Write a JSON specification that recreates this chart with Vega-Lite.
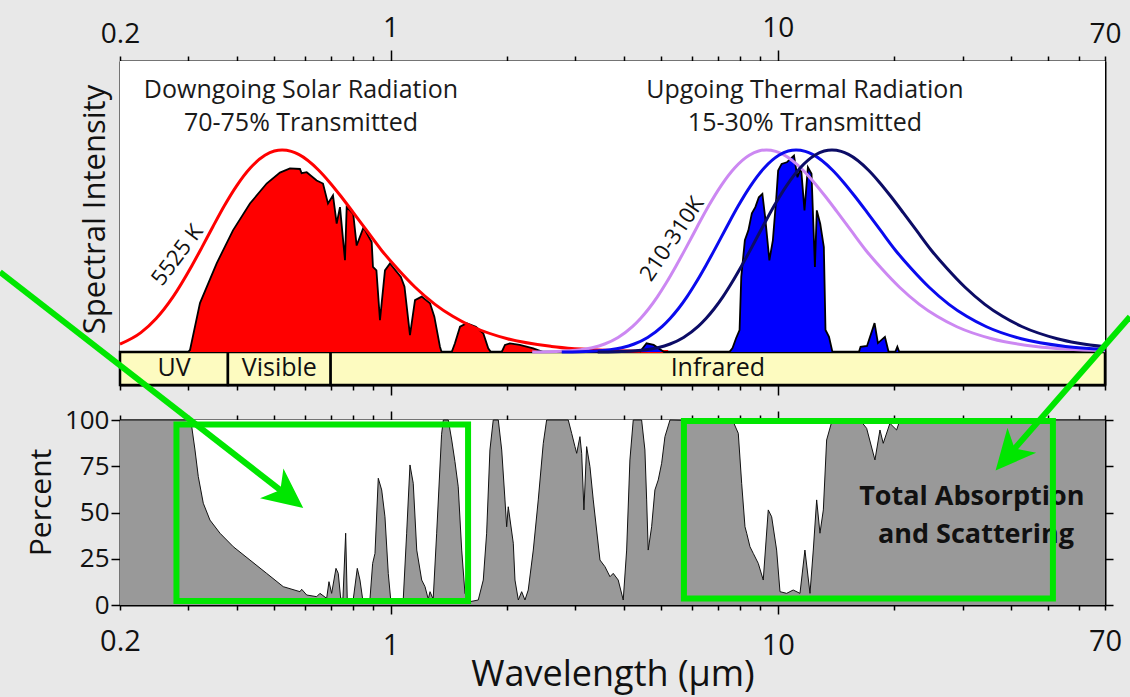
{
"$schema": "https://vega.github.io/schema/vega-lite/v6.json",
"width": 985,
"height": 544,
"autosize": "none",
"padding": {"left": 120, "top": 61, "right": 25, "bottom": 92},
"background": "#e8e8e8",
"config": {
  "view": {"stroke": null},
  "font": "Open Sans",
  "axis": {"domainColor": "#000000", "domainWidth": 2, "tickColor": "#000000", "tickWidth": 1.5, "labelColor": "#111111", "titleColor": "#111111", "labelFont": "Open Sans", "titleFont": "Open Sans", "titleFontWeight": "normal", "grid": false, "labelOverlap": false, "labelFlush": false}
},
"datasets": {
  "bands": [
    {"band": "UV", "x1": 0.2, "x2": 0.38, "y1": -0.1634, "y2": 0, "mid": 0.2757},
    {"band": "Visible", "x1": 0.38, "x2": 0.70, "y1": -0.1634, "y2": 0, "mid": 0.5158},
    {"band": "Infrared", "x1": 0.70, "x2": 70, "y1": -0.1634, "y2": 0, "mid": 7.0}
  ],
  "solar": [
    {"lam":0.3,"v":0},{"lam":0.3033,"v":0.01},{"lam":0.3218,"v":0.242},{"lam":0.3554,"v":0.439},{"lam":0.3916,"v":0.602},{"lam":0.4332,"v":0.735},{"lam":0.4784,"v":0.834},{"lam":0.5178,"v":0.888},{"lam":0.5495,"v":0.909},{"lam":0.5833,"v":0.906},{"lam":0.589,"v":0.885},{"lam":0.6071,"v":0.89},{"lam":0.6442,"v":0.849},{"lam":0.6688,"v":0.834},{"lam":0.689,"v":0.735},{"lam":0.7098,"v":0.775},{"lam":0.7256,"v":0.636},{"lam":0.74,"v":0.717},{"lam":0.7623,"v":0.454},{"lam":0.77,"v":0.717},{"lam":0.8007,"v":0.684},{"lam":0.8171,"v":0.527},{"lam":0.851,"v":0.617},{"lam":0.8935,"v":0.544},{"lam":0.9003,"v":0.421},{"lam":0.919,"v":0.404},{"lam":0.9386,"v":0.158},{"lam":0.9669,"v":0.404},{"lam":0.996,"v":0.438},{"lam":1.063,"v":0.372},{"lam":1.086,"v":0.323},{"lam":1.122,"v":0.084},{"lam":1.156,"v":0.257},{"lam":1.203,"v":0.274},{"lam":1.264,"v":0.241},{"lam":1.297,"v":0.175},{"lam":1.341,"v":0.026},{"lam":1.354,"v":0},{"lam":1.438,"v":0},{"lam":1.466,"v":0.043},{"lam":1.511,"v":0.125},{"lam":1.572,"v":0.142},{"lam":1.66,"v":0.125},{"lam":1.735,"v":0.093},{"lam":1.787,"v":0.018},{"lam":1.815,"v":0},{"lam":1.936,"v":0},{"lam":1.974,"v":0.035},{"lam":2.033,"v":0.043},{"lam":2.155,"v":0.035},{"lam":2.336,"v":0.018},{"lam":2.479,"v":0}
  ],
  "thermal": [
    {"lam":4.4,"v":0},{"lam":4.581,"v":0.043},{"lam":4.78,"v":0.035},{"lam":5.081,"v":0},{"lam":7.5,"v":0},{"lam":7.64,"v":0.02},{"lam":7.802,"v":0.068},{"lam":7.966,"v":0.109},{"lam":8.047,"v":0.372},{"lam":8.221,"v":0.553},{"lam":8.394,"v":0.602},{"lam":8.57,"v":0.686},{"lam":8.75,"v":0.717},{"lam":8.933,"v":0.766},{"lam":9.124,"v":0.783},{"lam":9.275,"v":0.668},{"lam":9.511,"v":0.454},{"lam":9.71,"v":0.553},{"lam":9.913,"v":0.766},{"lam":10.02,"v":0.898},{"lam":10.23,"v":0.931},{"lam":10.55,"v":0.939},{"lam":10.78,"v":0.956},{"lam":11.01,"v":0.972},{"lam":11.24,"v":0.865},{"lam":11.48,"v":0.914},{"lam":11.72,"v":0.701},{"lam":11.96,"v":0.914},{"lam":12.22,"v":0.882},{"lam":12.47,"v":0.421},{"lam":12.61,"v":0.701},{"lam":12.87,"v":0.635},{"lam":13.15,"v":0.52},{"lam":13.28,"v":0.109},{"lam":13.56,"v":0.075},{"lam":13.84,"v":0},{"lam":16.2,"v":0},{"lam":16.36,"v":0.026},{"lam":17,"v":0.03},{"lam":17.78,"v":0.143},{"lam":18.14,"v":0.044},{"lam":18.91,"v":0.075},{"lam":19.33,"v":0},{"lam":20.1,"v":0},{"lam":20.36,"v":0.026},{"lam":20.6,"v":0}
  ],
  "planck": [
    {"s":"5525","lam":0.2,"v":0.039},{"s":"5525","lam":0.2264,"v":0.0961},{"s":"5525","lam":0.248,"v":0.166},{"s":"5525","lam":0.2741,"v":0.273},{"s":"5525","lam":0.3064,"v":0.426},{"s":"5525","lam":0.3255,"v":0.518},{"s":"5525","lam":0.3472,"v":0.619},{"s":"5525","lam":0.372,"v":0.724},{"s":"5525","lam":0.4006,"v":0.824},{"s":"5525","lam":0.434,"v":0.911},{"s":"5525","lam":0.4735,"v":0.974},{"s":"5525","lam":0.5008,"v":0.995},{"s":"5525","lam":0.5245,"v":1.0},{"s":"5525","lam":0.554,"v":0.993},{"s":"5525","lam":0.5787,"v":0.978},{"s":"5525","lam":0.651,"v":0.901},{"s":"5525","lam":0.6944,"v":0.842},{"s":"5525","lam":0.744,"v":0.771},{"s":"5525","lam":0.801,"v":0.69},{"s":"5525","lam":0.868,"v":0.6005},{"s":"5525","lam":0.947,"v":0.504},{"s":"5525","lam":1.0416,"v":0.412},{"s":"5525","lam":1.157,"v":0.3205},{"s":"5525","lam":1.302,"v":0.236},{"s":"5525","lam":1.447,"v":0.1766},{"s":"5525","lam":1.6275,"v":0.125},{"s":"5525","lam":2.003,"v":0.0656},{"s":"5525","lam":2.604,"v":0.0275},{"s":"5525","lam":3.72,"v":0.0078},{"s":"5525","lam":5.21,"v":0.0023},
    {"s":"310","lam":2.321,"v":0.0003},{"s":"310","lam":2.578,"v":0.00136},{"s":"310","lam":2.901,"v":0.00557},{"s":"310","lam":3.094,"v":0.011},{"s":"310","lam":3.315,"v":0.0211},{"s":"310","lam":3.57,"v":0.0396},{"s":"310","lam":3.868,"v":0.0721},{"s":"310","lam":4.219,"v":0.127},{"s":"310","lam":4.42,"v":0.166},{"s":"310","lam":4.641,"v":0.214},{"s":"310","lam":4.885,"v":0.273},{"s":"310","lam":5.157,"v":0.344},{"s":"310","lam":5.46,"v":0.426},{"s":"310","lam":5.801,"v":0.518},{"s":"310","lam":6.188,"v":0.619},{"s":"310","lam":6.63,"v":0.724},{"s":"310","lam":7.14,"v":0.824},{"s":"310","lam":7.735,"v":0.911},{"s":"310","lam":8.438,"v":0.974},{"s":"310","lam":8.925,"v":0.995},{"s":"310","lam":9.347,"v":1.0},{"s":"310","lam":9.874,"v":0.993},{"s":"310","lam":10.313,"v":0.978},{"s":"310","lam":11.603,"v":0.901},{"s":"310","lam":12.376,"v":0.842},{"s":"310","lam":13.26,"v":0.771},{"s":"310","lam":14.28,"v":0.69},{"s":"310","lam":15.47,"v":0.6005},{"s":"310","lam":16.876,"v":0.504},{"s":"310","lam":18.564,"v":0.412},{"s":"310","lam":20.627,"v":0.3205},{"s":"310","lam":23.205,"v":0.236},{"s":"310","lam":25.783,"v":0.1766},{"s":"310","lam":29.006,"v":0.125},{"s":"310","lam":35.7,"v":0.0656},{"s":"310","lam":46.41,"v":0.02745},{"s":"310","lam":70,"v":0.00645},
    {"s":"260","lam":2.767,"v":0.0003},{"s":"260","lam":3.074,"v":0.00136},{"s":"260","lam":3.459,"v":0.00557},{"s":"260","lam":3.689,"v":0.011},{"s":"260","lam":3.953,"v":0.0211},{"s":"260","lam":4.257,"v":0.0396},{"s":"260","lam":4.612,"v":0.0721},{"s":"260","lam":5.031,"v":0.127},{"s":"260","lam":5.27,"v":0.166},{"s":"260","lam":5.534,"v":0.214},{"s":"260","lam":5.825,"v":0.273},{"s":"260","lam":6.149,"v":0.344},{"s":"260","lam":6.511,"v":0.426},{"s":"260","lam":6.918,"v":0.518},{"s":"260","lam":7.379,"v":0.619},{"s":"260","lam":7.906,"v":0.724},{"s":"260","lam":8.514,"v":0.824},{"s":"260","lam":9.223,"v":0.911},{"s":"260","lam":10.062,"v":0.974},{"s":"260","lam":10.642,"v":0.995},{"s":"260","lam":11.146,"v":1.0},{"s":"260","lam":11.774,"v":0.993},{"s":"260","lam":12.298,"v":0.978},{"s":"260","lam":13.835,"v":0.901},{"s":"260","lam":14.757,"v":0.842},{"s":"260","lam":15.811,"v":0.771},{"s":"260","lam":17.028,"v":0.69},{"s":"260","lam":18.447,"v":0.6005},{"s":"260","lam":20.124,"v":0.504},{"s":"260","lam":22.136,"v":0.412},{"s":"260","lam":24.596,"v":0.3205},{"s":"260","lam":27.67,"v":0.236},{"s":"260","lam":30.744,"v":0.1766},{"s":"260","lam":34.588,"v":0.125},{"s":"260","lam":42.569,"v":0.0656},{"s":"260","lam":55.34,"v":0.02745},{"s":"260","lam":70,"v":0.0121},
    {"s":"210","lam":3.426,"v":0.0003},{"s":"210","lam":3.806,"v":0.00136},{"s":"210","lam":4.282,"v":0.00557},{"s":"210","lam":4.567,"v":0.011},{"s":"210","lam":4.894,"v":0.0211},{"s":"210","lam":5.27,"v":0.0396},{"s":"210","lam":5.709,"v":0.0721},{"s":"210","lam":6.228,"v":0.127},{"s":"210","lam":6.525,"v":0.166},{"s":"210","lam":6.851,"v":0.214},{"s":"210","lam":7.212,"v":0.273},{"s":"210","lam":7.612,"v":0.344},{"s":"210","lam":8.06,"v":0.426},{"s":"210","lam":8.564,"v":0.518},{"s":"210","lam":9.135,"v":0.619},{"s":"210","lam":9.787,"v":0.724},{"s":"210","lam":10.54,"v":0.824},{"s":"210","lam":11.418,"v":0.911},{"s":"210","lam":12.456,"v":0.974},{"s":"210","lam":13.175,"v":0.995},{"s":"210","lam":13.799,"v":1.0},{"s":"210","lam":14.577,"v":0.993},{"s":"210","lam":15.224,"v":0.978},{"s":"210","lam":17.128,"v":0.901},{"s":"210","lam":18.269,"v":0.842},{"s":"210","lam":19.574,"v":0.771},{"s":"210","lam":21.08,"v":0.69},{"s":"210","lam":22.837,"v":0.6005},{"s":"210","lam":24.913,"v":0.504},{"s":"210","lam":27.404,"v":0.412},{"s":"210","lam":30.449,"v":0.3205},{"s":"210","lam":34.255,"v":0.236},{"s":"210","lam":38.061,"v":0.1766},{"s":"210","lam":42.819,"v":0.125},{"s":"210","lam":52.7,"v":0.0656},{"s":"210","lam":70,"v":0.0255}
  ],
  "absorb": [
    {"lam":0.2,"p":100},{"lam":0.3046,"p":100},{"lam":0.3064,"p":96.4},{"lam":0.3124,"p":83.8},{"lam":0.3186,"p":69.4},{"lam":0.3282,"p":55},{"lam":0.3415,"p":45.9},{"lam":0.3625,"p":38.8},{"lam":0.3923,"p":31.5},{"lam":0.4332,"p":24.3},{"lam":0.4784,"p":17.1},{"lam":0.5281,"p":9.9},{"lam":0.5833,"p":7.2},{"lam":0.5892,"p":8.5},{"lam":0.6071,"p":5.4},{"lam":0.6442,"p":4.5},{"lam":0.6569,"p":6.3},{"lam":0.6836,"p":3.6},{"lam":0.6931,"p":12.6},{"lam":0.7042,"p":6.3},{"lam":0.7225,"p":19.8},{"lam":0.7324,"p":17.1},{"lam":0.743,"p":3.6},{"lam":0.7531,"p":3.6},{"lam":0.7654,"p":38.8},{"lam":0.7727,"p":3.1},{"lam":0.8007,"p":3.1},{"lam":0.8202,"p":19.8},{"lam":0.8333,"p":13.5},{"lam":0.8469,"p":3.1},{"lam":0.8844,"p":3.1},{"lam":0.8986,"p":22.5},{"lam":0.9112,"p":27.9},{"lam":0.9292,"p":68.5},{"lam":0.9482,"p":62.2},{"lam":0.9669,"p":47.7},{"lam":0.9861,"p":17.1},{"lam":1.0002,"p":3.1},{"lam":1.078,"p":3.1},{"lam":1.1,"p":38.8},{"lam":1.122,"p":75.7},{"lam":1.144,"p":65.8},{"lam":1.168,"p":29.7},{"lam":1.203,"p":13.5},{"lam":1.227,"p":9.9},{"lam":1.251,"p":3.1},{"lam":1.264,"p":7.2},{"lam":1.288,"p":3.1},{"lam":1.315,"p":38.8},{"lam":1.354,"p":92.3},{"lam":1.368,"p":100},{"lam":1.409,"p":100},{"lam":1.438,"p":89.2},{"lam":1.466,"p":77.5},{"lam":1.495,"p":63.9},{"lam":1.526,"p":29.7},{"lam":1.556,"p":6.3},{"lam":1.603,"p":1.8},{"lam":1.684,"p":2.7},{"lam":1.735,"p":13.5},{"lam":1.77,"p":38.8},{"lam":1.805,"p":83.8},{"lam":1.841,"p":100},{"lam":1.897,"p":100},{"lam":1.936,"p":83.8},{"lam":1.974,"p":56.8},{"lam":1.994,"p":42.3},{"lam":2.013,"p":53.1},{"lam":2.074,"p":33.4},{"lam":2.095,"p":13.5},{"lam":2.137,"p":2.7},{"lam":2.18,"p":7.2},{"lam":2.223,"p":2.7},{"lam":2.267,"p":8.1},{"lam":2.336,"p":29.7},{"lam":2.406,"p":56.8},{"lam":2.479,"p":87.4},{"lam":2.529,"p":100},{"lam":2.876,"p":100},{"lam":2.935,"p":92.8},{"lam":2.993,"p":85.6},{"lam":3.024,"p":82},{"lam":3.083,"p":91},{"lam":3.115,"p":82},{"lam":3.157,"p":51.4},{"lam":3.208,"p":85.6},{"lam":3.272,"p":74.8},{"lam":3.337,"p":56.8},{"lam":3.473,"p":24.3},{"lam":3.578,"p":20.7},{"lam":3.686,"p":15.3},{"lam":3.758,"p":17.1},{"lam":3.871,"p":13.5},{"lam":3.988,"p":2.7},{"lam":4.07,"p":29.7},{"lam":4.15,"p":78.4},{"lam":4.233,"p":100},{"lam":4.449,"p":100},{"lam":4.537,"p":83.8},{"lam":4.584,"p":56.8},{"lam":4.627,"p":29.7},{"lam":4.722,"p":42.3},{"lam":4.815,"p":62.2},{"lam":4.911,"p":67.6},{"lam":5.012,"p":76.6},{"lam":5.111,"p":91},{"lam":5.267,"p":100},{"lam":7.674,"p":99},{"lam":7.906,"p":92.8},{"lam":8.066,"p":65.8},{"lam":8.227,"p":42.3},{"lam":8.311,"p":38.8},{"lam":8.475,"p":31.5},{"lam":8.643,"p":27.9},{"lam":8.904,"p":22.5},{"lam":9.171,"p":13.5},{"lam":9.448,"p":51.4},{"lam":9.641,"p":47.7},{"lam":9.931,"p":29.7},{"lam":10.13,"p":7.2},{"lam":10.54,"p":6.3},{"lam":10.96,"p":8.1},{"lam":11.41,"p":6.3},{"lam":11.75,"p":29.7},{"lam":12.11,"p":6.3},{"lam":12.35,"p":29.7},{"lam":12.6,"p":56.8},{"lam":12.85,"p":38.8},{"lam":13.11,"p":51.4},{"lam":13.37,"p":89.2},{"lam":13.78,"p":99},{"lam":16.3,"p":100},{"lam":16.96,"p":95.5},{"lam":17.82,"p":78.4},{"lam":18.36,"p":94.6},{"lam":18.72,"p":87.4},{"lam":19.48,"p":98.2},{"lam":20.27,"p":94.6},{"lam":20.68,"p":100},{"lam":70,"p":100}
  ]
},
"resolve": {"scale": {"y": "independent"}, "axis": {"x": "independent", "y": "independent"}},
"layer": [
  {
    "resolve": {"axis": {"x": "independent", "y": "independent"}},
    "layer": [
      {
        "data": {"values": [{"a": 0.2, "b": 70, "c": 0, "d": 1.4406}]},
        "mark": {"type": "rect", "color": "#ffffff", "opacity": 1},
        "encoding": {
          "x": {"field": "a", "type": "quantitative", "scale": {"type": "log", "domain": [0.2, 70], "nice": false},
                "axis": {"orient": "top", "values": [0.2,0.3,0.4,0.5,0.6,0.7,0.8,0.9,1,2,3,4,5,6,7,8,9,10,20,30,40,50,60,70], "labelExpr": "datum.value == 0.2 ? '0.2' : datum.value == 1 ? '1' : datum.value == 10 ? '10' : datum.value == 70 ? '70' : ''", "tickSize": {"condition": {"test": "datum.value == 1 || datum.value == 10", "value": 11}, "value": 5}, "labelFontSize": 28, "labelPadding": 8, "title": null}},
          "x2": {"field": "b"},
          "y": {"field": "c", "type": "quantitative", "scale": {"domain": [-0.1634, 1.4406], "range": [324, 0], "nice": false, "zero": false},
                "axis": {"orient": "left", "ticks": false, "labels": false, "title": "Spectral Intensity", "titleFontSize": 31, "titleAngle": -90, "titleBaseline": "alphabetic", "titleAlign": "center", "titleX": -16, "titleY": 148}},
          "y2": {"field": "d"}
        }
      },
      {
        "data": {"name": "bands"},
        "mark": {"type": "rect", "color": "#fdfbc0", "opacity": 1, "stroke": "#000000", "strokeWidth": 2.5},
        "encoding": {
          "x": {"field": "x1", "type": "quantitative", "scale": {"type": "log", "domain": [0.2, 70], "nice": false},
                "axis": {"orient": "bottom", "offset": -220, "values": [0.2,0.3,0.4,0.5,0.6,0.7,0.8,0.9,1,2,3,4,5,6,7,8,9,10,20,30,40,50,60,70], "labels": false, "tickSize": {"condition": {"test": "datum.value == 1 || datum.value == 10", "value": 10}, "value": 5}, "title": null}},
          "x2": {"field": "x2"},
          "y": {"field": "y1", "type": "quantitative", "scale": {"domain": [-0.1634, 1.4406], "range": [324, 0], "nice": false, "zero": false},
                "axis": {"orient": "right", "ticks": false, "labels": false, "title": null}},
          "y2": {"field": "y2"}
        }
      },
      {
        "data": {"name": "solar"},
        "mark": {"type": "area", "color": "#ff0000", "opacity": 1, "line": {"color": "#000000", "strokeWidth": 1.8}},
        "encoding": {
          "x": {"field": "lam", "type": "quantitative", "scale": {"type": "log", "domain": [0.2, 70], "nice": false}, "axis": null},
          "y": {"field": "v", "type": "quantitative", "stack": null, "scale": {"domain": [-0.1634, 1.4406], "range": [324, 0], "nice": false, "zero": false}, "axis": null}
        }
      },
      {
        "data": {"name": "planck"},
        "transform": [{"filter": "datum.s == '5525'"}],
        "mark": {"type": "line", "color": "#ff0000", "strokeWidth": 3, "interpolate": "monotone"},
        "encoding": {
          "x": {"field": "lam", "type": "quantitative", "scale": {"type": "log", "domain": [0.2, 70], "nice": false}, "axis": null},
          "y": {"field": "v", "type": "quantitative", "scale": {"domain": [-0.1634, 1.4406], "range": [324, 0], "nice": false, "zero": false}, "axis": null}
        }
      },
      {
        "data": {"name": "thermal"},
        "mark": {"type": "area", "color": "#0000ff", "opacity": 1, "line": {"color": "#000000", "strokeWidth": 1.8}},
        "encoding": {
          "x": {"field": "lam", "type": "quantitative", "scale": {"type": "log", "domain": [0.2, 70], "nice": false}, "axis": null},
          "y": {"field": "v", "type": "quantitative", "stack": null, "scale": {"domain": [-0.1634, 1.4406], "range": [324, 0], "nice": false, "zero": false}, "axis": null}
        }
      },
      {
        "data": {"name": "planck"},
        "transform": [{"filter": "datum.s == '310'"}],
        "mark": {"type": "line", "color": "#cc88f2", "strokeWidth": 3, "interpolate": "monotone"},
        "encoding": {
          "x": {"field": "lam", "type": "quantitative", "scale": {"type": "log", "domain": [0.2, 70], "nice": false}, "axis": null},
          "y": {"field": "v", "type": "quantitative", "scale": {"domain": [-0.1634, 1.4406], "range": [324, 0], "nice": false, "zero": false}, "axis": null}
        }
      },
      {
        "data": {"name": "planck"},
        "transform": [{"filter": "datum.s == '260'"}],
        "mark": {"type": "line", "color": "#0a0aee", "strokeWidth": 3, "interpolate": "monotone"},
        "encoding": {
          "x": {"field": "lam", "type": "quantitative", "scale": {"type": "log", "domain": [0.2, 70], "nice": false}, "axis": null},
          "y": {"field": "v", "type": "quantitative", "scale": {"domain": [-0.1634, 1.4406], "range": [324, 0], "nice": false, "zero": false}, "axis": null}
        }
      },
      {
        "data": {"name": "planck"},
        "transform": [{"filter": "datum.s == '210'"}],
        "mark": {"type": "line", "color": "#0c0c66", "strokeWidth": 3, "interpolate": "monotone"},
        "encoding": {
          "x": {"field": "lam", "type": "quantitative", "scale": {"type": "log", "domain": [0.2, 70], "nice": false}, "axis": null},
          "y": {"field": "v", "type": "quantitative", "scale": {"domain": [-0.1634, 1.4406], "range": [324, 0], "nice": false, "zero": false}, "axis": null}
        }
      },
      {
        "data": {"values": [
          {"t": "Downgoing Solar Radiation", "lam": 0.5868, "v": 1.297},
          {"t": "70-75% Transmitted", "lam": 0.5868, "v": 1.134},
          {"t": "Upgoing Thermal Radiation", "lam": 11.75, "v": 1.297},
          {"t": "15-30% Transmitted", "lam": 11.75, "v": 1.134}
        ]},
        "mark": {"type": "text", "font": "Open Sans", "fontSize": 25, "color": "#1a1a1a", "baseline": "middle", "align": "center"},
        "encoding": {
          "x": {"field": "lam", "type": "quantitative", "scale": {"type": "log", "domain": [0.2, 70], "nice": false}, "axis": null},
          "y": {"field": "v", "type": "quantitative", "scale": {"domain": [-0.1634, 1.4406], "range": [324, 0], "nice": false, "zero": false}, "axis": null},
          "text": {"field": "t"}
        }
      },
      {
        "data": {"name": "bands"},
        "mark": {"type": "text", "font": "Open Sans", "fontSize": 25, "color": "#111111", "baseline": "middle", "align": "center"},
        "encoding": {
          "x": {"field": "mid", "type": "quantitative", "scale": {"type": "log", "domain": [0.2, 70], "nice": false}, "axis": null},
          "y": {"datum": -0.08, "type": "quantitative", "scale": {"domain": [-0.1634, 1.4406], "range": [324, 0], "nice": false, "zero": false}, "axis": null},
          "text": {"field": "band"}
        }
      },
      {
        "data": {"values": [{"t": "5525 K", "lam": 0.2814, "v": 0.48}]},
        "mark": {"type": "text", "font": "Open Sans", "fontSize": 22, "color": "#111111", "baseline": "middle", "align": "center", "angle": -53},
        "encoding": {
          "x": {"field": "lam", "type": "quantitative", "scale": {"type": "log", "domain": [0.2, 70], "nice": false}, "axis": null},
          "y": {"field": "v", "type": "quantitative", "scale": {"domain": [-0.1634, 1.4406], "range": [324, 0], "nice": false, "zero": false}, "axis": null},
          "text": {"field": "t"}
        }
      },
      {
        "data": {"values": [{"t": "210-310K", "lam": 5.33, "v": 0.559}]},
        "mark": {"type": "text", "font": "Open Sans", "fontSize": 22, "color": "#111111", "baseline": "middle", "align": "center", "angle": -56},
        "encoding": {
          "x": {"field": "lam", "type": "quantitative", "scale": {"type": "log", "domain": [0.2, 70], "nice": false}, "axis": null},
          "y": {"field": "v", "type": "quantitative", "scale": {"domain": [-0.1634, 1.4406], "range": [324, 0], "nice": false, "zero": false}, "axis": null},
          "text": {"field": "t"}
        }
      }
    ]
  },
  {
    "resolve": {"axis": {"x": "independent", "y": "independent"}},
    "layer": [
      {
        "data": {"values": [{"a": 0.2, "b": 70, "c": 0, "d": 100}]},
        "mark": {"type": "rect", "color": "#ffffff", "opacity": 1},
        "encoding": {
          "x": {"field": "a", "type": "quantitative", "scale": {"type": "log", "domain": [0.2, 70], "nice": false},
                "axis": {"orient": "bottom", "values": [0.2,0.3,0.4,0.5,0.6,0.7,0.8,0.9,1,2,3,4,5,6,7,8,9,10,20,30,40,50,60,70], "labelExpr": "datum.value == 0.2 ? '0.2' : datum.value == 1 ? '1' : datum.value == 10 ? '10' : datum.value == 70 ? '70' : ''", "tickSize": {"condition": {"test": "datum.value == 1 || datum.value == 10", "value": 9}, "value": 5}, "labelFontSize": 29, "labelPadding": 17, "title": "Wavelength (μm)", "titleFontSize": 36, "titleBaseline": "alphabetic", "titleY": 80}},
          "x2": {"field": "b"},
          "y": {"field": "c", "type": "quantitative", "scale": {"domain": [0, 100], "range": [544, 359], "nice": false, "zero": false},
                "axis": {"orient": "left", "values": [0, 25, 50, 75, 100], "tickSize": 9, "labelPadding": 2, "labelFontSize": 26, "title": "Percent", "titleFontSize": 30, "titleAngle": -90, "titleBaseline": "alphabetic", "titleAlign": "center", "titleX": -70, "titleY": 441}},
          "y2": {"field": "d"}
        }
      },
      {
        "data": {"name": "absorb"},
        "mark": {"type": "area", "color": "#999999", "opacity": 1, "line": {"color": "#111111", "strokeWidth": 1}},
        "encoding": {
          "x": {"field": "lam", "type": "quantitative", "scale": {"type": "log", "domain": [0.2, 70], "nice": false},
                "axis": {"orient": "top", "offset": -359, "values": [0.2,0.3,0.4,0.5,0.6,0.7,0.8,0.9,1,2,3,4,5,6,7,8,9,10,20,30,40,50,60,70], "labels": false, "tickSize": {"condition": {"test": "datum.value == 1 || datum.value == 10", "value": 9}, "value": 5}, "title": null}},
          "y": {"field": "p", "type": "quantitative", "stack": null, "scale": {"domain": [0, 100], "range": [544, 359], "nice": false, "zero": false},
                "axis": {"orient": "right", "values": [0, 25, 50, 75, 100], "tickSize": 8, "labels": false, "title": null}}
        }
      },
      {
        "data": {"values": [
          {"t": "Total Absorption", "lam": 31.7, "p": 58.4},
          {"t": "and Scattering", "lam": 32.5, "p": 37.8}
        ]},
        "mark": {"type": "text", "font": "Open Sans", "fontSize": 27, "fontWeight": "bold", "color": "#111111", "baseline": "middle", "align": "center"},
        "encoding": {
          "x": {"field": "lam", "type": "quantitative", "scale": {"type": "log", "domain": [0.2, 70], "nice": false}, "axis": null},
          "y": {"field": "p", "type": "quantitative", "scale": {"domain": [0, 100], "range": [544, 359], "nice": false, "zero": false}, "axis": null},
          "text": {"field": "t"}
        }
      },
      {
        "data": {"values": [
          {"x1": 0.2798, "x2": 1.585, "y1": 2.2, "y2": 97.6},
          {"x1": 5.722, "x2": 51.35, "y1": 3.5, "y2": 99.5}
        ]},
        "mark": {"type": "rect", "filled": false, "color": "#00e600", "opacity": 1, "strokeWidth": 6},
        "encoding": {
          "x": {"field": "x1", "type": "quantitative", "scale": {"type": "log", "domain": [0.2, 70], "nice": false}, "axis": null},
          "x2": {"field": "x2"},
          "y": {"field": "y1", "type": "quantitative", "scale": {"domain": [0, 100], "range": [544, 359], "nice": false, "zero": false}, "axis": null},
          "y2": {"field": "y2"}
        }
      },
      {
        "data": {"values": [
          {"x1": 0.09797, "y1": 180, "x2": 0.5415, "y2": 59.1},
          {"x1": 81.2, "y1": 155.8, "x2": 39.48, "y2": 80.9}
        ]},
        "mark": {"type": "rule", "color": "#00e600", "strokeWidth": 6},
        "encoding": {
          "x": {"field": "x1", "type": "quantitative", "scale": {"type": "log", "domain": [0.2, 70], "nice": false}, "axis": null},
          "x2": {"field": "x2"},
          "y": {"field": "y1", "type": "quantitative", "scale": {"domain": [0, 100], "range": [544, 359], "nice": false, "zero": false}, "axis": null},
          "y2": {"field": "y2"}
        }
      },
      {
        "data": {"values": [{"lam": 0.5415, "p": 59.1}]},
        "mark": {"type": "point", "shape": "M0,-1L0.95,1L0,0.45L-0.95,1Z", "filled": true, "color": "#00e600", "opacity": 1, "size": 1600, "angle": 128, "strokeWidth": 0},
        "encoding": {
          "x": {"field": "lam", "type": "quantitative", "scale": {"type": "log", "domain": [0.2, 70], "nice": false}, "axis": null},
          "y": {"field": "p", "type": "quantitative", "scale": {"domain": [0, 100], "range": [544, 359], "nice": false, "zero": false}, "axis": null}
        }
      },
      {
        "data": {"values": [{"lam": 39.48, "p": 80.9}]},
        "mark": {"type": "point", "shape": "M0,-1L0.95,1L0,0.45L-0.95,1Z", "filled": true, "color": "#00e600", "opacity": 1, "size": 1600, "angle": 221, "strokeWidth": 0},
        "encoding": {
          "x": {"field": "lam", "type": "quantitative", "scale": {"type": "log", "domain": [0.2, 70], "nice": false}, "axis": null},
          "y": {"field": "p", "type": "quantitative", "scale": {"domain": [0, 100], "range": [544, 359], "nice": false, "zero": false}, "axis": null}
        }
      }
    ]
  }
]
}
